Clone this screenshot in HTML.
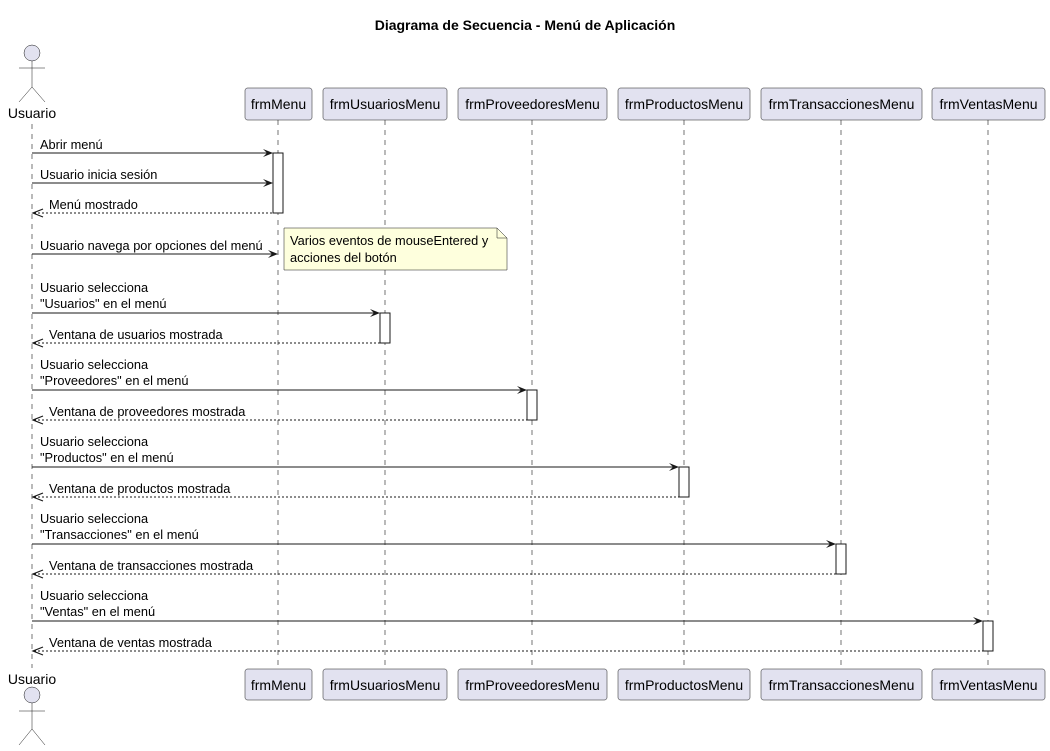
<!DOCTYPE html>
<html><head><meta charset="utf-8"><style>
body{margin:0;background:#fff}
svg{display:block}
text{font-family:"Liberation Sans",sans-serif;fill:#000}
.m{font-size:12.8px}
.p{font-size:14px}
</style></head><body>
<svg width="1050" height="751" viewBox="0 0 1050 751" xmlns="http://www.w3.org/2000/svg">
<text x="525" y="30" text-anchor="middle" font-size="14" font-weight="bold">Diagrama de Secuencia - Menú de Aplicación</text>
<g stroke="#181818" stroke-width="0.6" stroke-dasharray="5,5" fill="none">
<line x1="32" y1="124" x2="32" y2="668"/>
<line x1="278" y1="120" x2="278" y2="669"/>
<line x1="385" y1="120" x2="385" y2="669"/>
<line x1="532" y1="120" x2="532" y2="669"/>
<line x1="684" y1="120" x2="684" y2="669"/>
<line x1="841" y1="120" x2="841" y2="669"/>
<line x1="988" y1="120" x2="988" y2="669"/>
</g>
<g fill="#E2E2F0" stroke="#181818" stroke-width="0.5">
<circle cx="32" cy="53" r="8"/>
<circle cx="32" cy="695" r="8"/>
</g>
<g stroke="#181818" stroke-width="0.5" fill="none">
<path d="M32 61V87M19 68H45M19 102L32 87L45 102"/>
<path d="M32 703V729M19 711H45M19 745L32 729L45 745"/>
</g>
<text class="p" x="32" y="118" text-anchor="middle">Usuario</text>
<text class="p" x="32" y="684" text-anchor="middle">Usuario</text>
<g fill="#E2E2F0" stroke="#181818" stroke-width="0.5">
<rect x="245" y="88" width="67" height="32" rx="2.5"/>
<rect x="323" y="88" width="124" height="32" rx="2.5"/>
<rect x="458" y="88" width="149" height="32" rx="2.5"/>
<rect x="618" y="88" width="132" height="32" rx="2.5"/>
<rect x="761" y="88" width="161" height="32" rx="2.5"/>
<rect x="932" y="88" width="113" height="32" rx="2.5"/>
<rect x="245" y="669" width="67" height="31" rx="2.5"/>
<rect x="323" y="669" width="124" height="31" rx="2.5"/>
<rect x="458" y="669" width="149" height="31" rx="2.5"/>
<rect x="618" y="669" width="132" height="31" rx="2.5"/>
<rect x="761" y="669" width="161" height="31" rx="2.5"/>
<rect x="932" y="669" width="113" height="31" rx="2.5"/>
</g>
<g class="p" text-anchor="middle">
<text x="278.5" y="109">frmMenu</text><text x="385" y="109">frmUsuariosMenu</text><text x="532.5" y="109">frmProveedoresMenu</text><text x="684" y="109">frmProductosMenu</text><text x="841.5" y="109">frmTransaccionesMenu</text><text x="988.5" y="109">frmVentasMenu</text>
<text x="278.5" y="690">frmMenu</text><text x="385" y="690">frmUsuariosMenu</text><text x="532.5" y="690">frmProveedoresMenu</text><text x="684" y="690">frmProductosMenu</text><text x="841.5" y="690">frmTransaccionesMenu</text><text x="988.5" y="690">frmVentasMenu</text>
</g>
<g fill="#fff" stroke="#181818" stroke-width="1">
<rect x="273" y="153" width="10" height="60"/>
<rect x="380" y="313" width="10" height="30"/>
<rect x="527" y="390" width="10" height="30"/>
<rect x="679" y="467" width="10" height="30"/>
<rect x="836" y="544" width="10" height="30"/>
<rect x="983" y="621" width="10" height="30"/>
</g>
<path d="M284 228H497L507 238V270H284Z" fill="#FEFFDD" stroke="#181818" stroke-width="0.5"/>
<path d="M497 228V238H507" fill="none" stroke="#181818" stroke-width="0.5"/>
<text class="m" x="290" y="245">Varios eventos de mouseEntered y</text>
<text class="m" x="290" y="262">acciones del botón</text>
<g stroke="#181818" stroke-width="1" fill="none">
<line x1="32" y1="153" x2="272" y2="153"/>
<line x1="32" y1="183" x2="272" y2="183"/>
<line x1="32" y1="254" x2="277" y2="254"/>
<line x1="32" y1="313" x2="379" y2="313"/>
<line x1="32" y1="390" x2="526" y2="390"/>
<line x1="32" y1="467" x2="678" y2="467"/>
<line x1="32" y1="544" x2="835" y2="544"/>
<line x1="32" y1="621" x2="982" y2="621"/>
<g stroke-dasharray="2,2">
<line x1="34" y1="213" x2="273" y2="213"/>
<line x1="34" y1="343" x2="380" y2="343"/>
<line x1="34" y1="420" x2="527" y2="420"/>
<line x1="34" y1="497" x2="679" y2="497"/>
<line x1="34" y1="574" x2="836" y2="574"/>
<line x1="34" y1="651" x2="983" y2="651"/>
</g>
</g>
<g fill="#181818">
<path d="M273 153l-10-4 4 4-4 4z"/>
<path d="M273 183l-10-4 4 4-4 4z"/>
<path d="M278 254l-10-4 4 4-4 4z"/>
<path d="M380 313l-10-4 4 4-4 4z"/>
<path d="M527 390l-10-4 4 4-4 4z"/>
<path d="M679 467l-10-4 4 4-4 4z"/>
<path d="M836 544l-10-4 4 4-4 4z"/>
<path d="M983 621l-10-4 4 4-4 4z"/>
</g>
<g stroke="#181818" stroke-width="1.2" fill="none">
<path d="M43 209l-10 4 10 4"/>
<path d="M43 339l-10 4 10 4"/>
<path d="M43 416l-10 4 10 4"/>
<path d="M43 493l-10 4 10 4"/>
<path d="M43 570l-10 4 10 4"/>
<path d="M43 647l-10 4 10 4"/>
</g>
<g class="m">
<text x="40" y="149">Abrir menú</text>
<text x="40" y="179">Usuario inicia sesión</text>
<text x="49" y="209">Menú mostrado</text>
<text x="40" y="250">Usuario navega por opciones del menú</text>
<text x="40" y="292">Usuario selecciona</text><text x="40" y="308">"Usuarios" en el menú</text>
<text x="49" y="339">Ventana de usuarios mostrada</text>
<text x="40" y="369">Usuario selecciona</text><text x="40" y="385">"Proveedores" en el menú</text>
<text x="49" y="416">Ventana de proveedores mostrada</text>
<text x="40" y="446">Usuario selecciona</text><text x="40" y="462">"Productos" en el menú</text>
<text x="49" y="493">Ventana de productos mostrada</text>
<text x="40" y="523">Usuario selecciona</text><text x="40" y="539">"Transacciones" en el menú</text>
<text x="49" y="570">Ventana de transacciones mostrada</text>
<text x="40" y="600">Usuario selecciona</text><text x="40" y="616">"Ventas" en el menú</text>
<text x="49" y="647">Ventana de ventas mostrada</text>
</g>
</svg>
</body></html>
